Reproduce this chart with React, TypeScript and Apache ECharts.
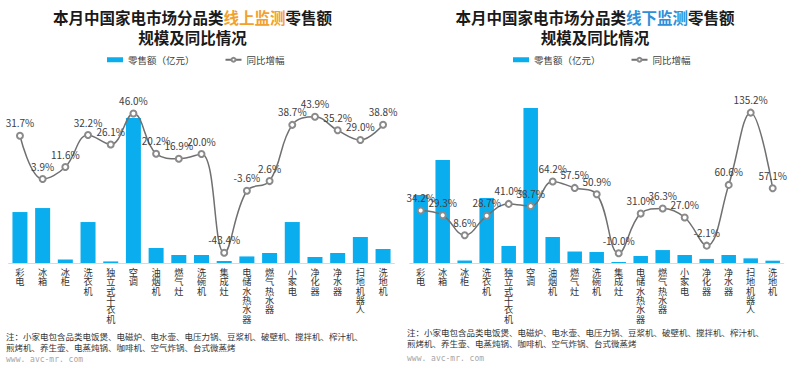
import React, { useEffect, useRef } from "react";
import * as echarts from "echarts";

const categories = ["彩电", "冰箱", "冰柜", "洗衣机", "独立式干衣机", "空调", "油烟机", "燃气灶", "洗碗机", "集成灶", "电储水热水器", "燃气热水器", "小家电", "净化器", "净水器", "扫地机器人", "洗地机"];

// 线上 (online)
const onlineSales = [35.7, 38.5, 2.5, 28.7, 1.1, 101.5, 10.5, 5.6, 5.6, 1.4, 4.6, 7.0, 28.7, 4.2, 7.0, 18.2, 9.8];
const onlineGrowth = [31.7, 3.9, 11.6, 32.2, 26.1, 46.0, 20.2, 16.9, 20.0, -43.4, -3.6, 2.6, 38.7, 43.9, 35.2, 29.0, 38.8];

// 线下 (offline)
const offlineSales = [46.8, 70.9, 1.7, 44.7, 11.7, 106.6, 17.9, 7.9, 7.6, 0.7, 4.8, 8.9, 5.5, 2.8, 5.5, 3.2, 1.6];
const offlineGrowth = [34.2, 29.3, 8.6, 28.7, 41.0, 38.7, 64.2, 57.5, 50.9, -10.0, 31.0, 36.3, 27.0, -2.1, 60.6, 135.2, 57.1];

const BAR_NAME = "零售额（亿元）";
const LINE_NAME = "同比增幅";
const NOTE1 = "注：小家电包含品类电饭煲、电磁炉、电水壶、电压力锅、豆浆机、破壁机、搅拌机、榨汁机、";
const NOTE2 = "煎烤机、养生壶、电蒸炖锅、咖啡机、空气炸锅、台式微蒸烤";
const SITE = "www. avc-mr. com";

const FONT = "'Noto Sans CJK SC', 'Noto Sans', sans-serif";
const BAR_COLOR = "#0AAEEE";
const LINE_COLOR = "#707070";

export default function App() {
  const ref = useRef<HTMLDivElement>(null);
  useEffect(() => {
    if (!ref.current) return;
    const chart = echarts.init(ref.current, undefined, { renderer: "svg" });

    const xAxisBase = {
      type: "category" as const,
      data: categories,
      axisLine: { show: true, lineStyle: { color: "#d9d9d9", width: 1 } },
      axisTick: { show: false },
      axisLabel: {
        interval: 0,
        margin: 4,
        fontSize: 9.2,
        lineHeight: 9.4,
        color: "#333",
        fontFamily: FONT,
        formatter: (v: string) => v.split("").join("\n"),
      },
    };

    const lineSeries = (data: number[], xi: number, yi: number) => ({
      type: "line" as const,
      name: LINE_NAME,
      xAxisIndex: xi,
      yAxisIndex: yi,
      data,
      smooth: 0.4,
      symbol: "emptyCircle",
      symbolSize: 6,
      lineStyle: { color: LINE_COLOR, width: 1.5 },
      itemStyle: { color: "#8a8a8a", borderWidth: 1 },
      label: {
        show: true,
        position: "top" as const,
        distance: 4,
        fontSize: 10,
        color: "#404040",
        fontFamily: FONT,
        formatter: (p: any) => p.value.toFixed(1) + "%",
      },
      z: 3,
    });

    const barSeries = (data: number[], xi: number, yi: number, w: number) => ({
      type: "bar" as const,
      name: BAR_NAME,
      xAxisIndex: xi,
      yAxisIndex: yi,
      data,
      barWidth: w,
      itemStyle: { color: BAR_COLOR },
      z: 2,
    });

    const legendBase = {
      top: 50,
      itemWidth: 16,
      itemHeight: 5,
      itemGap: 30,
      textStyle: { fontSize: 9.5, color: "#404040", fontFamily: FONT },
      data: [{ name: BAR_NAME, icon: "rect" }, { name: LINE_NAME }],
    };

    const title = (cx: number, word: string, color: string) => [
      {
        type: "text",
        x: cx,
        y: 17,
        style: {
          text: "{a|本月中国家电市场分品类}{b|" + word + "}{a|零售额}",
          align: "center",
          verticalAlign: "middle",
          rich: {
            a: { fontSize: 15.5, fontWeight: "bold", fill: "#1a1a1a", fontFamily: FONT },
            b: { fontSize: 15.5, fontWeight: "bold", fill: color, fontFamily: FONT },
          },
        },
      },
      {
        type: "text",
        x: cx,
        y: 37,
        style: {
          text: "规模及同比情况",
          align: "center",
          verticalAlign: "middle",
          fontSize: 15.5,
          fontWeight: "bold",
          fill: "#1a1a1a",
          fontFamily: FONT,
        },
      },
    ];

    const notes = (x: number, y1: number, y2: number, y3: number) => [
      { type: "text", x, y: y1, style: { text: NOTE1, fontSize: 8.5, fill: "#333", fontFamily: FONT, verticalAlign: "middle" } },
      { type: "text", x, y: y2, style: { text: NOTE2, fontSize: 8.5, fill: "#333", fontFamily: FONT, verticalAlign: "middle" } },
      { type: "text", x, y: y3, style: { text: SITE, fontSize: 8, fill: "#a6a6a6", fontFamily: "'DejaVu Sans Mono', monospace", verticalAlign: "middle" } },
    ];

    chart.setOption({
      animation: false,
      backgroundColor: "#fff",
      grid: [
        { left: 8.6, width: 385.8, top: 91.7, height: 171.3 },
        { left: 409.7, width: 374, top: 88.6, height: 174.4 },
      ],
      xAxis: [
        { ...xAxisBase, gridIndex: 0 },
        { ...xAxisBase, gridIndex: 1 },
      ],
      yAxis: [
        { type: "value", gridIndex: 0, min: 0, max: 120, show: false },
        { type: "value", gridIndex: 0, min: -50, max: 60, show: false },
        { type: "value", gridIndex: 1, min: 0, max: 120, show: false },
        { type: "value", gridIndex: 1, min: -20, max: 160, show: false },
      ],
      legend: [
        { ...legendBase, left: 102 },
        { ...legendBase, left: 508 },
      ],
      graphic: [
        ...title(192.5, "线上监测", "#F2A12E"),
        ...title(595, "线下监测", "#2F8FD8"),
        ...notes(6, 336, 346.5, 359),
        ...notes(407, 332, 343, 358),
      ],
      series: [
        barSeries(onlineSales, 0, 0, 15),
        lineSeries(onlineGrowth, 0, 1),
        barSeries(offlineSales, 1, 2, 14.5),
        lineSeries(offlineGrowth, 1, 3),
      ],
    });
    return () => chart.dispose();
  }, []);
  return <div ref={ref} style={{ position: "fixed", left: 0, top: 0, width: 802, height: 370, background: "#fff" }} />;
}
